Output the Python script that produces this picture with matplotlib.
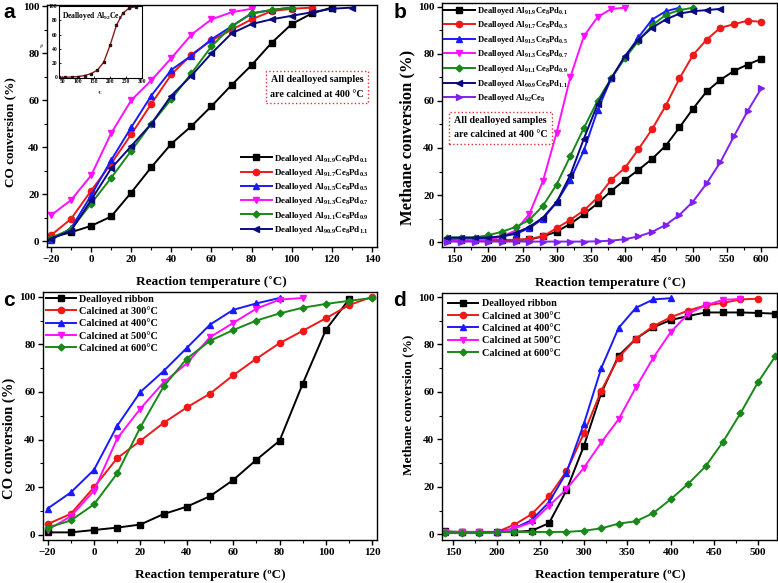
import matplotlib
matplotlib.use("Agg")
import matplotlib.pyplot as plt
from matplotlib.ticker import MultipleLocator, AutoMinorLocator

plt.rcParams['font.family'] = ['Liberation Serif', 'DejaVu Serif']
plt.rcParams['font.weight'] = 'bold'
plt.rcParams['axes.labelweight'] = 'bold'
plt.rcParams['mathtext.fontset'] = 'custom'
plt.rcParams['mathtext.rm'] = 'Liberation Serif:bold'
plt.rcParams['mathtext.it'] = 'Liberation Serif:bold'
plt.rcParams['mathtext.bf'] = 'Liberation Serif:bold'

# ---------------- Panel a data (CO conversion, Pd series) ----------------
a_x = [-20, -10, 0, 10, 20, 30, 40, 50, 60, 70, 80, 90, 100, 110, 120, 130]
a_pd01 = [1.5, 3.8, 6.5, 10.5, 20.7, 31.5, 41.5, 49, 57.5, 66.5, 75, 84.5, 92.5, 97, 99.5]
a_pd03 = [2.5, 9.5, 21.5, 33, 45.5, 58.5, 71, 79.5, 85.5, 90, 94.5, 98, 99, 99.5]
a_pd05 = [0.5, 5.5, 19.5, 34.5, 48.5, 62, 73, 79, 86, 91.5, 97, 98.5, 99.5]
a_pd07 = [11, 17.5, 28, 46, 60, 68.5, 78, 88, 94.5, 97.5, 99]
a_pd09 = [1.5, 5, 16, 27, 38.5, 50, 60.5, 71.5, 83, 91.5, 97, 98.5, 99.5]
a_pd11 = [1, 4.5, 17.5, 31, 40.5, 50, 62, 70.5, 80, 88.5, 92.5, 94.5, 96, 97.5, 99, 99.5]
a_labels = [r'Dealloyed Al$_{91.9}$Ce$_{8}$Pd$_{0.1}$',
            r'Dealloyed Al$_{91.7}$Ce$_{8}$Pd$_{0.3}$',
            r'Dealloyed Al$_{91.5}$Ce$_{8}$Pd$_{0.5}$',
            r'Dealloyed Al$_{91.3}$Ce$_{8}$Pd$_{0.7}$',
            r'Dealloyed Al$_{91.1}$Ce$_{8}$Pd$_{0.9}$',
            r'Dealloyed Al$_{90.9}$Ce$_{8}$Pd$_{1.1}$']

# inset (Dealloyed Al92Ce8, CO conversion)
in_x = [40, 60, 80, 100, 120, 140, 160, 180, 200, 220, 240, 260, 280]
in_y = [0, 0, 0.5, 1, 2.5, 5, 10, 21, 45, 73, 90, 97, 99]

# ---------------- Panel b data (methane conversion, Pd series) ----------------
b_x = [140, 160, 180, 200, 220, 240, 260, 280, 300, 320, 340, 360, 380, 400,
       420, 440, 460, 480, 500, 520, 540, 560, 580, 600]
b_pd01 = [1, 1, 1, 1, 1, 1, 1.2, 2.5, 4.5, 7.8, 11.9, 16.5, 21.8, 26.4, 30.7, 35.4,
          41, 48.7, 56.7, 64, 68.9, 72.7, 75.4, 77.8]
b_pd03 = [1, 1, 1, 1, 1, 1, 1.5, 2.5, 6, 9.5, 13.5, 19, 26.5, 31.5, 39.5, 48, 58,
          69.5, 79.5, 86, 91, 92.5, 94, 93.5]
b_pd05 = [1.5, 1.5, 1.5, 2, 2.5, 3.5, 6, 10, 17, 26.5, 39, 56, 69.5, 78.5, 87,
          94.5, 98, 99.5]
b_pd07 = [0.5, 1, 1, 1, 2.5, 5, 12, 26, 46.5, 70, 87.5, 95.5, 99, 99.5]
b_pd09 = [2, 2, 2, 3, 4.5, 6.5, 9.5, 15.5, 24.5, 36.5, 48.5, 60, 69.5, 78, 85.5,
          92, 96.5, 98.5, 99.5]
b_pd11 = [2, 2, 2, 2, 2.5, 4, 6.5, 10.5, 17, 28.5, 44, 58.5, 69.5, 79, 86, 91,
          94.5, 97, 98, 98.5, 99]
b_al92 = [0.3, 0.3, 0.3, 0.3, 0.3, 0.3, 0.3, 0.3, 0.3, 0.3, 0.3, 0.4, 0.7, 1.3,
          2.5, 4.4, 7.4, 11.6, 17.3, 25, 34, 45, 55.7, 65.3]
b_labels = a_labels + [r'Dealloyed Al$_{92}$Ce$_{8}$']

# ---------------- Panel c data (CO conversion, calcination) ----------------
c_x = [-20, -10, 0, 10, 20, 30, 40, 50, 60, 70, 80, 90, 100, 110, 120]
c_ribbon = [1, 1, 2, 3, 4.3, 8.7, 11.8, 16.2, 23, 31.5, 39.5, 63.5, 86.2, 99]
c_300 = [4.5, 8.8, 20, 32.2, 39.5, 47, 53.5, 59.3, 67, 74, 80.5, 85.7, 91, 96.5, 100]
c_400 = [11, 17.8, 27.3, 45.8, 60, 68.8, 78.5, 88.3, 94.5, 97.2, 99.5]
c_500 = [2, 7.8, 18.5, 40.5, 53, 64, 72, 83, 89, 95, 98.8, 99.5]
c_600 = [3, 6, 12.8, 25.8, 45.2, 62.3, 74, 81.5, 86, 90, 93, 95.4, 97, 98.3, 99.5]
cd_labels = ['Dealloyed ribbon', 'Calcined at 300\u00b0C', 'Calcined at 400\u00b0C',
             'Calcined at 500\u00b0C', 'Calcined at 600\u00b0C']

# ---------------- Panel d data (methane conversion, calcination) ----------------
d_x = [140, 160, 180, 200, 220, 240, 260, 280, 300, 320, 340, 360, 380, 400,
       420, 440, 460, 480, 500, 520]
d_ribbon = [1.2, 1, 1, 1, 1, 1.5, 4.7, 18.5, 37.2, 59.5, 75.3, 82.5, 87.3, 90.3,
            92, 93.5, 93.5, 93.5, 93.3, 93]
d_300 = [1, 1, 1, 1, 4, 8.5, 16, 26.5, 42.5, 60.5, 74.5, 82.5, 87.8, 91.5, 94.3,
         96.5, 97.5, 99, 99.3]
d_400 = [0.8, 0.8, 0.8, 0.8, 2.5, 6, 13.5, 26, 46.5, 70, 87, 95.5, 99, 99.5]
d_500 = [0.8, 0.8, 0.8, 0.5, 2.5, 5, 12, 19, 28, 38.7, 48.5, 62, 74.5, 85.3, 93,
         96.5, 98.8, 99.2]
d_600 = [0.5, 0.5, 0.5, 1, 1, 1, 1, 1, 1.5, 2.5, 4.5, 5.5, 9, 14.8, 21.3, 28.7,
         39, 51, 64, 75]

# ---------------- styles ----------------
C_BLACK, C_RED, C_BLUE, C_MAG, C_GREEN, C_NAVY, C_PURP = (
    '#000000', '#f01818', '#1a1aff', '#ff10ff', '#188818', '#0a0a80', '#8020f0')
pd_styles = [(C_BLACK, 's'), (C_RED, 'o'), (C_BLUE, '^'), (C_MAG, 'v'),
             (C_GREEN, 'D'), (C_NAVY, '<'), (C_PURP, '>')]
cd_styles = [(C_BLACK, 's'), (C_RED, 'o'), (C_BLUE, '^'), (C_MAG, 'v'), (C_GREEN, 'D')]

W, H = 778, 583
fig = plt.figure(figsize=(W / 100, H / 100), dpi=100)


def add_ax(l, t, r, b):
    return fig.add_axes([l / W, 1 - b / H, (r - l) / W, (b - t) / H])


def style_ax(ax, xmaj, ymaj=20):
    ax.xaxis.set_major_locator(MultipleLocator(xmaj))
    ax.yaxis.set_major_locator(MultipleLocator(ymaj))
    ax.xaxis.set_minor_locator(AutoMinorLocator(2))
    ax.yaxis.set_minor_locator(AutoMinorLocator(2))
    ax.tick_params(which='major', direction='out', length=3.5, width=1, labelsize=8, pad=2)
    ax.tick_params(which='minor', direction='out', length=2, width=0.8)
    for s in ax.spines.values():
        s.set_linewidth(1.0)
    for lab in ax.get_xticklabels() + ax.get_yticklabels():
        lab.set_fontweight('bold')


def plot_series(ax, x, ys, styles, labels, ms=4.5):
    for y, (c, m), lab in zip(ys, styles, labels):
        msz = ms - 1 if m == 'D' else ms
        ax.plot(x[:len(y)], y, color=c, marker=m, ms=msz, lw=1.4, label=lab)


def fig_text(x, y, s, **kw):
    fig.text(x / W, 1 - y / H, s, ha='center', va='center', fontweight='bold', **kw)


# ---------- a ----------
ax_a = add_ax(47, 5, 377, 247)
plot_series(ax_a, a_x, [a_pd01, a_pd03, a_pd05, a_pd07, a_pd09, a_pd11],
            pd_styles[:6], a_labels)
ax_a.set_xlim(-22, 142.5)
ax_a.set_ylim(-2.5, 100.6)
style_ax(ax_a, 20)
ax_a.legend(loc='lower right', bbox_to_anchor=(0.995, 0.02), frameon=False,
            fontsize=6.5, handlelength=3.4, handletextpad=0.3, labelspacing=0.25,
            borderpad=0.2)
ax_a.text(0.818, 0.661, 'All dealloyed samples\nare calcined at 400 \u00b0C',
          transform=ax_a.transAxes, ha='center', va='center', fontsize=7.2,
          fontweight='bold', linespacing=1.75,
          bbox=dict(boxstyle='square,pad=0.45', fc='white', ec='#e03030', ls=':', lw=1))

# inset
ax_in = add_ax(59, 6, 142, 78)
ax_in.plot(in_x, in_y, color='#8b1a1a', lw=1.0, marker='s', ms=2, mfc='#301010', mec='#301010')
ax_in.set_xlim(40, 300)
ax_in.set_ylim(-1, 100)
ax_in.xaxis.set_major_locator(MultipleLocator(50))
ax_in.yaxis.set_major_locator(MultipleLocator(20))
ax_in.tick_params(direction='in', length=1.5, width=0.6, labelsize=4, pad=1)
for s in ax_in.spines.values():
    s.set_linewidth(0.8)
ax_in.text(0.04, 0.95, r'Dealloyed Al$_{92}$Ce$_{8}$', transform=ax_in.transAxes,
           ha='left', va='top', fontsize=5.5, fontweight='bold')
fig_text(100, 93, '\u00b0C', fontsize=3)
fig_text(43, 45, '%', fontsize=3, rotation=90)

fig_text(211, 282, 'Reaction temperature (\u02daC)', fontsize=9.5)
fig_text(10, 132, 'CO conversion (%)', fontsize=9.5, rotation=90)

# ---------- b ----------
ax_b = add_ax(442, 3, 777, 247)
plot_series(ax_b, b_x, [b_pd01, b_pd03, b_pd05, b_pd07, b_pd09, b_pd11, b_al92],
            pd_styles, b_labels)
ax_b.set_xlim(132, 623)
ax_b.set_ylim(-2, 101.5)
style_ax(ax_b, 50)
ax_b.legend(loc='upper left', bbox_to_anchor=(0.0, 1.0), frameon=False,
            fontsize=6.2, handlelength=3.6, handletextpad=0.3, labelspacing=0.3,
            borderpad=0.1, borderaxespad=0.1)
ax_b.text(0.175, 0.488, 'All dealloyed samples\nare calcined at 400 \u00b0C',
          transform=ax_b.transAxes, ha='center', va='center', fontsize=7.2,
          fontweight='bold', linespacing=1.7,
          bbox=dict(boxstyle='square,pad=0.45', fc='white', ec='#e03030', ls=':', lw=1))
fig_text(610, 283, 'Reaction temperature (\u02daC)', fontsize=9.5)
fig_text(407, 137, 'Methane conversion (%)', fontsize=12, rotation=90)

# ---------- c ----------
ax_c = add_ax(43, 292, 377, 540)
plot_series(ax_c, c_x, [c_ribbon, c_300, c_400, c_500, c_600], cd_styles, cd_labels)
ax_c.set_xlim(-22, 122)
ax_c.set_ylim(-2.2, 102)
style_ax(ax_c, 20)
ax_c.legend(loc='upper left', bbox_to_anchor=(0.0, 1.0), frameon=False,
            fontsize=7.3, handlelength=3.0, handletextpad=0.3, labelspacing=0.32,
            borderpad=0.15, borderaxespad=0.1)
fig_text(210, 575, 'Reaction temperature (\u00baC)', fontsize=9.5)
fig_text(9, 438, 'CO conversion (%)', fontsize=10.5, rotation=90)

# ---------- d ----------
ax_d = add_ax(442, 293, 777, 540)
plot_series(ax_d, d_x, [d_ribbon, d_300, d_400, d_500, d_600], cd_styles, cd_labels)
ax_d.set_xlim(137, 522)
ax_d.set_ylim(-2.4, 101.7)
style_ax(ax_d, 50)
ax_d.legend(loc='upper left', bbox_to_anchor=(0.0, 1.0), frameon=False,
            fontsize=7.3, handlelength=3.0, handletextpad=0.3, labelspacing=0.32,
            borderpad=0.4, borderaxespad=0.2)
fig_text(610, 575, 'Reaction temperature (\u00baC)', fontsize=9.5)
fig_text(408, 405, 'Methane conversion (%)', fontsize=9.5, rotation=90)

# panel letters
for x, y, s in [(9, 13, 'a'), (400, 13, 'b'), (9, 300, 'c'), (400, 300, 'd')]:
    fig.text(x / W, 1 - y / H, s, ha='center', va='center', fontsize=15,
             fontweight='bold', family='Liberation Sans')

fig.savefig('out.png', dpi=100)
